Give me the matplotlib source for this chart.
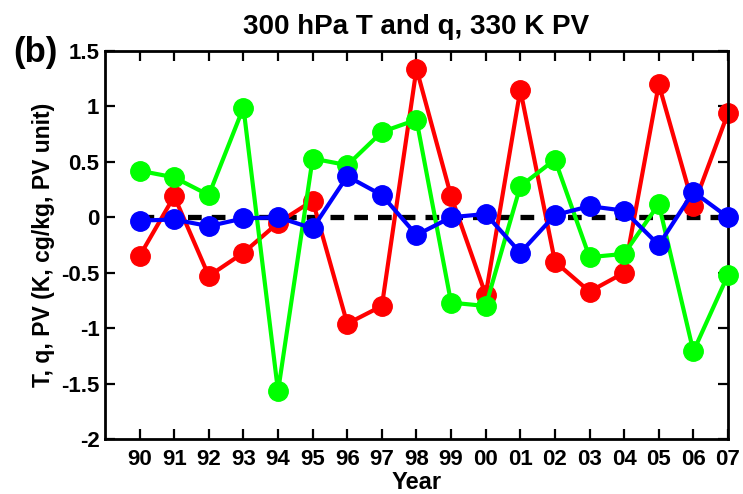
"""Recreate 300 hPa T and q, 330 K PV anomaly time series (panel b)."""

import matplotlib

matplotlib.use("Agg")
import matplotlib.pyplot as plt

plt.rcParams["font.family"] = ["Liberation Sans", "DejaVu Sans"]
plt.rcParams["font.weight"] = "bold"

years = ["90", "91", "92", "93", "94", "95", "96", "97", "98",
         "99", "00", "01", "02", "03", "04", "05", "06", "07"]
t_300 = [-0.35, 0.19, -0.53, -0.32, -0.05, 0.15, -0.96, -0.80, 1.34,
         0.19, -0.70, 1.15, -0.40, -0.67, -0.50, 1.20, 0.10, 0.94]
q_300 = [0.42, 0.36, 0.20, 0.99, -1.57, 0.53, 0.47, 0.77, 0.88,
         -0.77, -0.80, 0.28, 0.52, -0.36, -0.33, 0.12, -1.21, -0.52]
pv_330 = [-0.03, -0.02, -0.08, -0.01, 0.00, -0.10, 0.37, 0.20, -0.16,
          0.00, 0.03, -0.32, 0.02, 0.10, 0.06, -0.25, 0.23, 0.00]
yticks = [-2, -1.5, -1, -0.5, 0, 0.5, 1, 1.5]
ytick_labels = ["-2", "-1.5", "-1", "-0.5", "0", "0.5", "1", "1.5"]


def main() -> None:
    fig = plt.figure(figsize=(7.43, 4.94), dpi=100)
    ax = fig.add_axes([0.1413, 0.1113, 0.8385, 0.7855])

    x = list(range(len(years)))
    ax.plot([x[0], x[-1]], [0, 0], color="black", linewidth=3.8,
            linestyle=(0, (2.6, 1.9)), zorder=1)

    style = dict(marker="o", markersize=14, linewidth=3.0, clip_on=False)
    ax.plot(x, t_300, color="#ff0000", zorder=2, **style)
    ax.plot(x, q_300, color="#00ff00", zorder=3, **style)
    ax.plot(x, pv_330, color="#0000ff", zorder=4, **style)

    ax.set_xlim(-1, len(years) - 1)
    ax.set_ylim(-2, 1.5)
    ax.set_xticks(x)
    ax.set_xticklabels(years)
    ax.set_yticks(yticks)
    ax.set_yticklabels(ytick_labels)

    ax.tick_params(direction="in", length=7, width=1.6, top=True, right=True,
                   labelsize=16)
    ax.tick_params(axis="x", pad=7)
    ax.tick_params(axis="y", pad=4)
    for label in ax.get_xticklabels() + ax.get_yticklabels():
        label.set_fontweight("bold")
    for spine in ax.spines.values():
        spine.set_linewidth(2)

    ax.set_title("300 hPa T and q, 330 K PV", fontsize=20, fontweight="bold", pad=12)
    ax.set_xlabel("Year", fontsize=17, fontweight="bold", labelpad=1)
    ax.set_ylabel("T, q, PV (K, cg/kg, PV unit)", fontsize=16.5, fontweight="bold", labelpad=4)
    fig.text(0.018, 0.893, "(b)", fontsize=25, fontweight="bold", va="center", ha="left")

    fig.savefig("out.png", dpi=100)
    plt.close(fig)


if __name__ == "__main__":
    main()
